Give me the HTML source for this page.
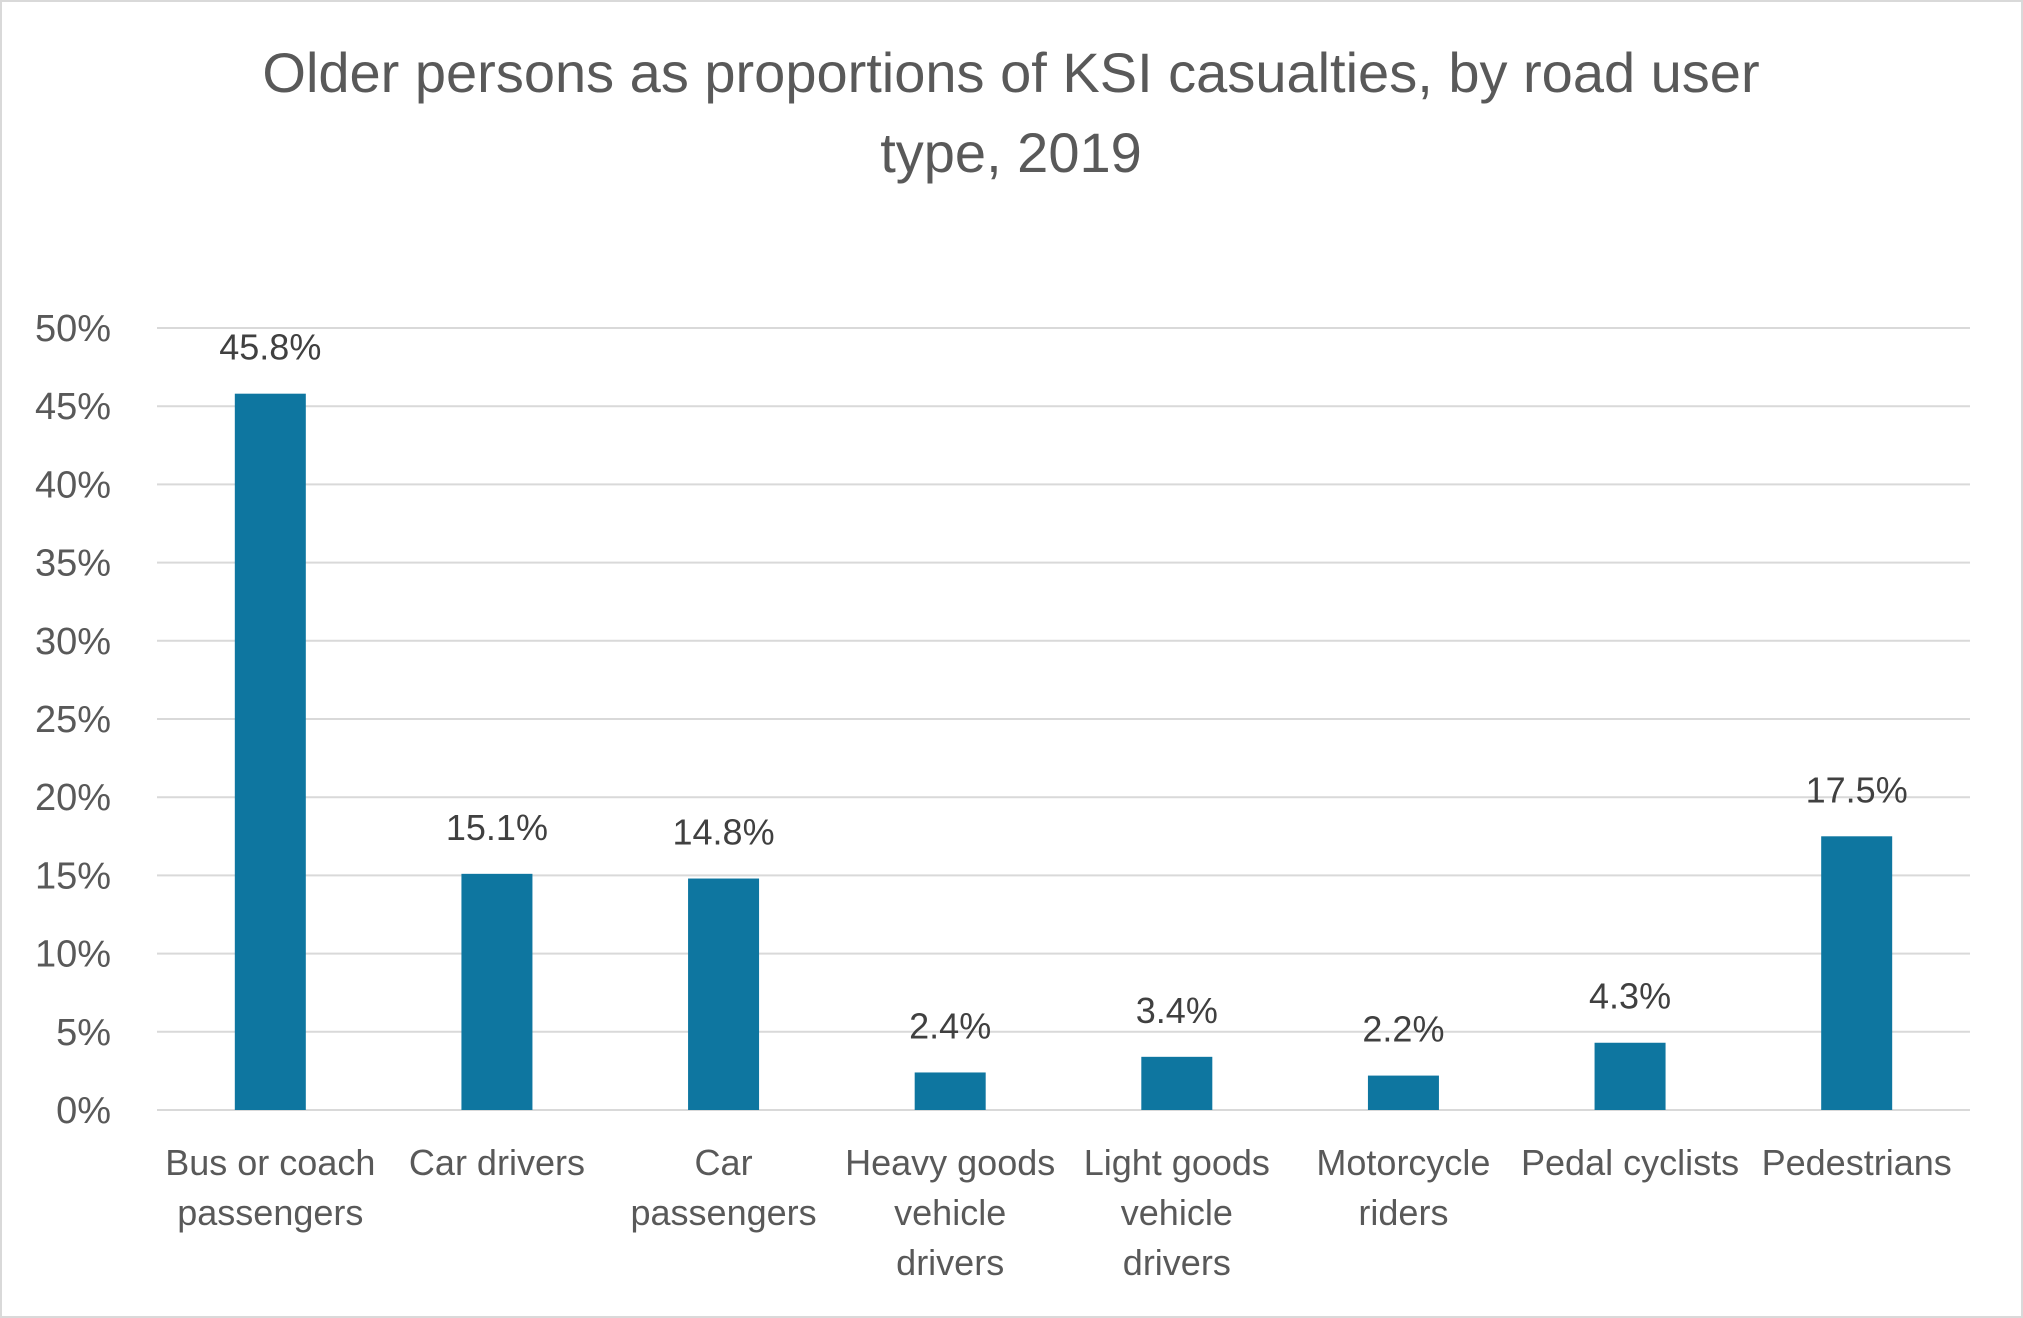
<!DOCTYPE html>
<html><head><meta charset="utf-8"><style>
html,body{margin:0;padding:0;background:#fff}
svg{display:block;font-family:"Liberation Sans",sans-serif}
</style></head><body>
<svg id="chart" width="2023" height="1318" viewBox="0 0 2023 1318">
<rect x="1" y="1" width="2021" height="1316" fill="#fff" stroke="#d9d9d9" stroke-width="2"/>
<text x="1011" y="92" text-anchor="middle" font-size="56" fill="#595959"><tspan x="1011">Older persons as proportions of KSI casualties, by road user</tspan><tspan x="1011" dy="80">type, 2019</tspan></text>
<g id="grid"></g><g id="bars"></g><g id="labels"></g>
</svg>
<script>
const categories=[["Bus or coach","passengers"],["Car drivers"],["Car","passengers"],["Heavy goods","vehicle","drivers"],["Light goods","vehicle","drivers"],["Motorcycle","riders"],["Pedal cyclists"],["Pedestrians"]];
const values=[45.8,15.1,14.8,2.4,3.4,2.2,4.3,17.5];
const valueLabels=["45.8%","15.1%","14.8%","2.4%","3.4%","2.2%","4.3%","17.5%"];
const ticks=[0,5,10,15,20,25,30,35,40,45,50];
const tickLabels=["0%","5%","10%","15%","20%","25%","30%","35%","40%","45%","50%"];
const NS="http://www.w3.org/2000/svg";
const x0=157,x1=1970,y0=1110,y1=328,vmax=50;
const y=v=>y0-(v/vmax)*(y0-y1);
const band=(x1-x0)/categories.length;
const cx=i=>x0+band*(i+0.5);
const bw=71;
function mk(t,a,p){const e=document.createElementNS(NS,t);for(const k in a)e.setAttribute(k,a[k]);p.appendChild(e);return e;}
const grid=document.getElementById('grid'),bars=document.getElementById('bars'),labels=document.getElementById('labels');
ticks.forEach((t,i)=>{
 const l=mk('line',{x1:x0,x2:x1,y1:y(t),y2:y(t),stroke:'#d9d9d9','stroke-width':2},grid);
 
 
 const tx=mk('text',{x:111,y:y(t)+13,'text-anchor':'end','font-size':38,fill:'#595959'},grid);
 tx.textContent=tickLabels[i];
 
 
});
values.forEach((v,i)=>{
 const r=mk('rect',{x:cx(i)-bw/2,y:y(v),width:bw,height:y0-y(v),fill:'#0e76a0'},bars);
 
 
 const t=mk('text',{x:cx(i),y:y(v)-34,'text-anchor':'middle','font-size':36,fill:'#404040'},labels);
 t.textContent=valueLabels[i];
 
 
 categories[i].forEach((ln,j)=>{
  const c=mk('text',{x:cx(i),y:1175+j*50,'text-anchor':'middle','font-size':36,fill:'#595959'},labels);
  c.textContent=ln;
  
  
 });
});
</script>
</body></html>
